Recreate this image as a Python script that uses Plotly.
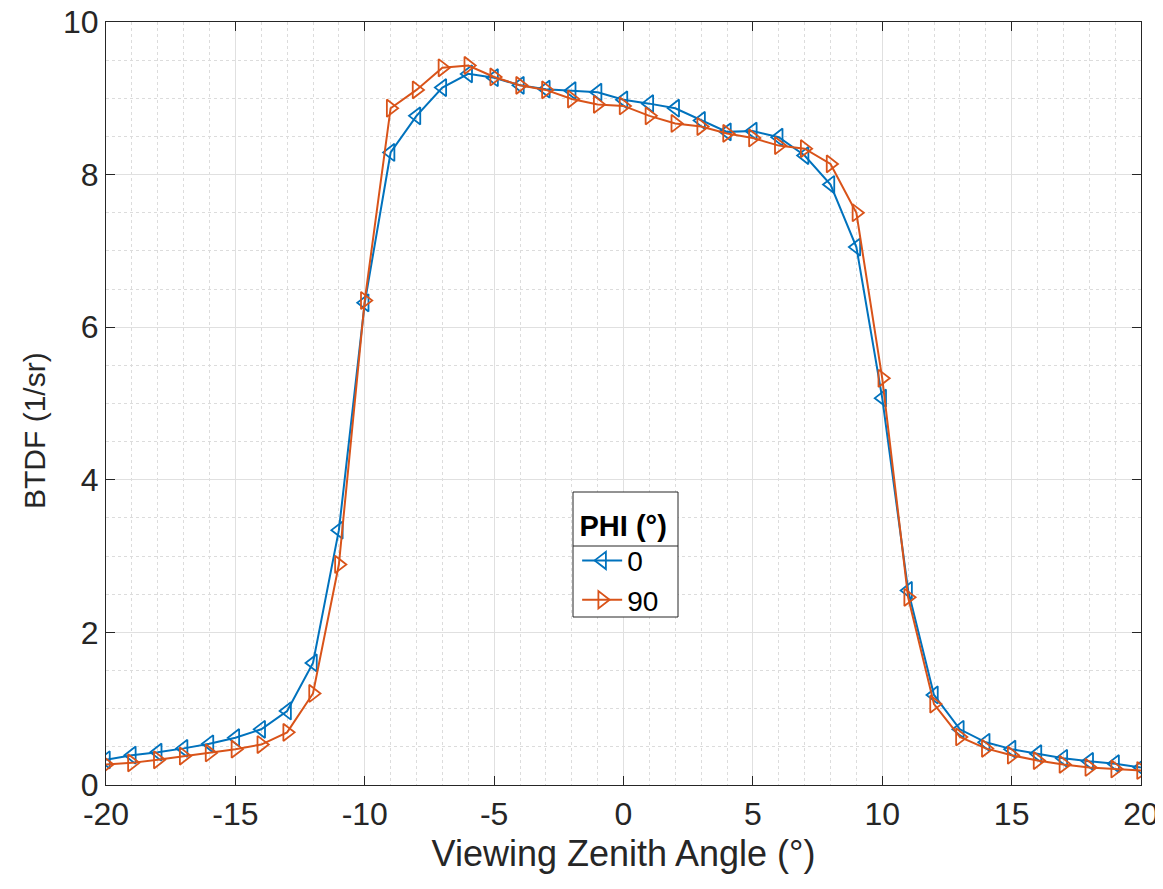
import plotly.graph_objects as go

angles = list(range(-20, 21))
btdf_phi0 = [0.33, 0.39, 0.43, 0.48, 0.54, 0.62, 0.73, 0.97, 1.60, 3.34,
             6.32, 8.29, 8.77, 9.14, 9.32, 9.27, 9.17, 9.12, 9.10, 9.08,
             8.98, 8.93, 8.87, 8.71, 8.56, 8.57, 8.49, 8.25, 7.87, 7.05,
             5.07, 2.55, 1.18, 0.73, 0.56, 0.47, 0.41, 0.35, 0.31, 0.28, 0.23]
btdf_phi90 = [0.27, 0.29, 0.33, 0.38, 0.42, 0.47, 0.53, 0.69, 1.20, 2.89,
              6.35, 8.87, 9.11, 9.40, 9.43, 9.28, 9.17, 9.11, 8.99, 8.92,
              8.90, 8.77, 8.67, 8.63, 8.54, 8.48, 8.38, 8.34, 8.14, 7.50,
              5.33, 2.46, 1.06, 0.63, 0.48, 0.39, 0.32, 0.27, 0.23, 0.21, 0.19]
series_names = ["0", "90"]
x_tick_vals = [-20, -15, -10, -5, 0, 5, 10, 15, 20]
x_tick_text = ["-20", "-15", "-10", "-5", "0", "5", "10", "15", "20"]
y_tick_vals = [0, 2, 4, 6, 8, 10]
y_tick_text = ["0", "2", "4", "6", "8", "10"]
legend_title = "PHI (°)"
x_title = "Viewing Zenith Angle (°)"
y_title = "BTDF (1/sr)"

BLUE = "#0072BD"
ORANGE = "#D95319"
AX = "#262626"
FONT = "Liberation Sans, Arial, Helvetica, sans-serif"

# page body has an 8px margin; keep the page inside the 1163x889 window
OFF = 8
W, H = 1155, 873
ML, MT = 106 - OFF, 22 - OFF
MR = W - (1141 - OFF)
MB = H - (785 - OFF)
PW = W - ML - MR
PH = H - MT - MB

def px_x(px):
    return (px - OFF - ML) / PW

def px_y(py):
    return (H - MB - (py - OFF)) / PH

fig = go.Figure()
fig.add_trace(go.Scatter(
    x=angles, y=btdf_phi0, name=series_names[0], mode="lines+markers",
    line=dict(color=BLUE, width=2),
    marker=dict(symbol="triangle-left-open", size=15, color=BLUE,
                line=dict(width=1.8, color=BLUE)),
))
fig.add_trace(go.Scatter(
    x=angles, y=btdf_phi90, name=series_names[1], mode="lines+markers",
    line=dict(color=ORANGE, width=2),
    marker=dict(symbol="triangle-right-open", size=15, color=ORANGE,
                line=dict(width=1.8, color=ORANGE)),
))

axis_common = dict(
    showline=True, linecolor=AX, linewidth=1.2, mirror="ticks",
    ticks="inside", ticklen=9, tickwidth=1.2, tickcolor=AX,
    showgrid=True, gridcolor="#e0e0e0", gridwidth=1,
    zeroline=False, automargin=False, ticklabeloverflow="allow",
    tickfont=dict(family=FONT, size=32, color=AX),
)

fig.update_xaxes(
    range=[-20, 20], tickmode="array", tickvals=x_tick_vals, ticktext=x_tick_text,
    minor=dict(dtick=1, tick0=0, showgrid=True, gridcolor="#dcdcdc", griddash="dot", ticks=""),
    title=dict(text=x_title, standoff=10, font=dict(family=FONT, size=36, color=AX)),
    **axis_common,
)
fig.update_yaxes(
    range=[0, 10], tickmode="array", tickvals=y_tick_vals, ticktext=y_tick_text,
    minor=dict(dtick=0.5, tick0=0, showgrid=True, gridcolor="#dcdcdc", griddash="dot", ticks=""),
    **axis_common,
)

bx0, bx1 = px_x(573), px_x(678)
by0, by1 = px_y(617), px_y(492)
sep = px_y(546)

fig.update_layout(
    width=W, height=H,
    margin=dict(l=ML, r=MR, t=MT, b=MB),
    paper_bgcolor="white", plot_bgcolor="white",
    font=dict(family=FONT, color=AX),
    showlegend=True,
    legend=dict(
        x=bx0 + 0.004, y=px_y(498), xanchor="left", yanchor="top",
        bgcolor="rgba(0,0,0,0)", borderwidth=0,
        font=dict(family=FONT, size=28, color="black"),
        title=dict(text="<b>" + legend_title + "</b>",
                   font=dict(family=FONT, size=29, color="black"), side="top center"),
        tracegroupgap=0, itemwidth=40,
    ),
    shapes=[
        dict(type="rect", xref="paper", yref="paper", x0=bx0, x1=bx1, y0=by0, y1=by1,
             fillcolor="white", line=dict(color="#262626", width=1), layer="above"),
        dict(type="line", xref="paper", yref="paper", x0=bx0, x1=bx1, y0=sep, y1=sep,
             line=dict(color="#262626", width=1), layer="above"),
    ],
    annotations=[
        dict(text=y_title, xref="paper", yref="paper", x=px_x(34), y=px_y(431),
             xanchor="center", yanchor="middle", textangle=-90, showarrow=False,
             font=dict(family=FONT, size=30, color=AX)),
    ],
)

fig.write_html("out.html")
